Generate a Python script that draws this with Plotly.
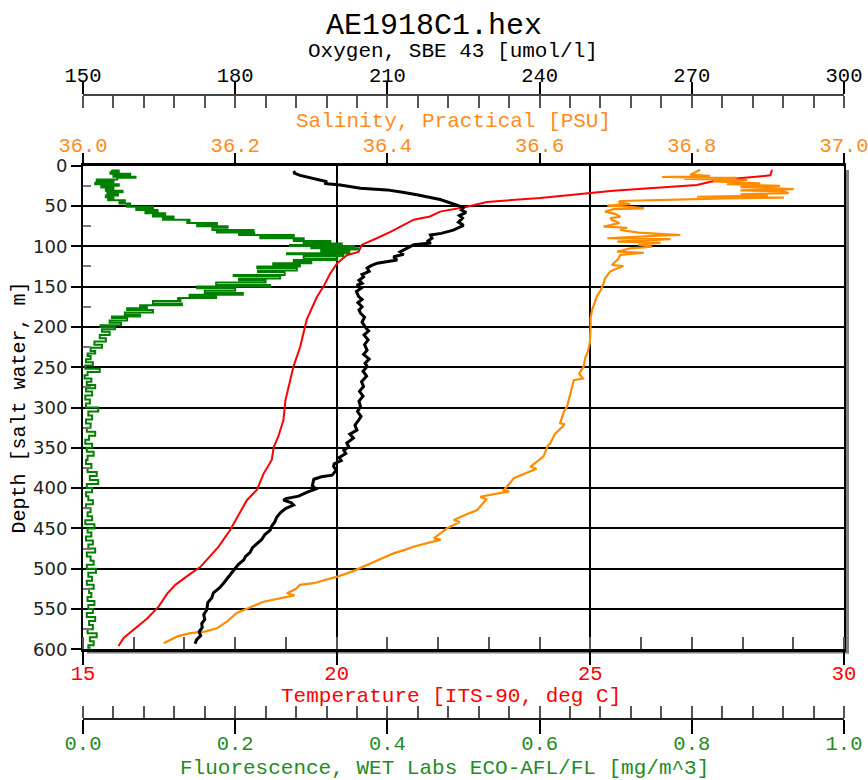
import plotly.graph_objects as go

# ---------------- data ----------------
temp_depth = [5, 12, 18, 24, 31, 34, 40, 45, 51, 57,
              63, 67, 76, 82, 90, 98, 107, 111, 121, 134,
              150, 163, 191, 225, 249, 266, 291, 316, 336, 349,
              365, 382, 402, 415, 436, 452, 473, 498, 508, 520,
              531, 547, 562, 576, 586, 596]
temp_value = [28.58, 28.55, 27.50, 27.10, 25.45, 25.00, 24.01, 22.96, 22.57, 22.04,
              21.84, 21.52, 21.25, 21.06, 20.79, 20.50, 20.43, 20.20, 20.01, 19.87,
              19.74, 19.61, 19.41, 19.28, 19.15, 19.09, 18.99, 18.95, 18.85, 18.76,
              18.72, 18.56, 18.43, 18.23, 18.04, 17.90, 17.67, 17.31, 17.08, 16.82,
              16.66, 16.49, 16.26, 16.00, 15.80, 15.70]

oxy_depth = [7, 9, 12, 16, 20, 22, 24, 28, 30, 33,
             36, 42, 46, 49, 52, 55, 58, 62, 65, 70,
             74, 78, 80, 84, 86, 90, 94, 96, 98, 102,
             107, 110, 113, 117, 119, 121, 124, 127, 131, 135,
             138, 142, 146, 148, 152, 156, 162, 166, 170, 175,
             179, 183, 188, 194, 200, 205, 210, 216, 222, 229,
             234, 240, 245, 249, 255, 261, 268, 274, 280, 286,
             292, 299, 305, 311, 316, 322, 328, 333, 338, 344,
             349, 353, 357, 362, 366, 370, 373, 378, 384, 386,
             389, 392, 397, 401, 405, 410, 413, 415, 418, 421,
             425, 430, 436, 442, 447, 452, 458, 464, 469, 474,
             480, 485, 489, 495, 502, 508, 513, 518, 524, 530,
             536, 542, 551, 557, 563, 568, 573, 578, 583, 588,
             593]
oxy_value = [191.9, 191.5, 192.8, 195.5, 198.1, 197.6, 200.7, 204.7, 209.9, 213.0,
             215.8, 220.4, 222.5, 223.7, 225.0, 224.6, 225.5, 224.2, 224.8, 224.0,
             225.0, 223.6, 223.0, 220.6, 218.5, 218.8, 217.8, 218.6, 215.2, 214.0,
             212.5, 213.2, 211.2, 211.9, 209.5, 208.0, 206.8, 206.0, 206.4, 205.0,
             205.3, 204.4, 205.0, 204.0, 204.8, 203.9, 204.3, 205.0, 204.2, 205.0,
             204.4, 204.7, 205.5, 205.0, 205.6, 206.3, 205.4, 206.2, 205.5, 206.0,
             205.3, 206.4, 205.6, 206.0, 205.2, 205.9, 204.9, 205.3, 204.5, 205.2,
             204.4, 204.7, 204.1, 204.8, 204.3, 203.6, 204.0, 202.6, 203.3, 202.0,
             202.4, 201.4, 201.8, 200.5, 200.9, 199.5, 199.4, 199.9, 199.1, 197.0,
             195.5, 195.4, 195.2, 195.9, 194.2, 192.5, 190.0, 189.5, 191.0, 191.5,
             190.0, 189.0, 188.2, 187.8, 187.2, 186.9, 185.8, 185.2, 184.3, 183.4,
             182.9, 182.0, 181.7, 180.6, 179.7, 179.0, 178.4, 177.7, 176.9, 175.7,
             175.4, 174.6, 174.4, 173.8, 174.0, 173.4, 173.5, 172.9, 173.2, 172.4,
             172.1]

sal_depth = [5.0, 8.0, 11.5, 12.5, 14.0, 15.0, 16.5, 17.7, 19.5, 21.8,
             23.0, 25.0, 26.5, 29.0, 30.5, 32.0, 34.0, 35.5, 37.0, 38.5,
             39.5, 40.5, 42.5, 43.8, 45.4, 47.5, 49.6, 51.0, 52.9, 54.0,
             57.0, 60.0, 63.3, 65.0, 67.4, 71.0, 75.7, 77.0, 79.8, 83.0,
             86.0, 87.0, 90.0, 91.0, 94.3, 95.5, 98.0, 100.5, 102.5, 106.7,
             108.0, 110.8, 116.0, 123.2, 124.5, 131.0, 139.7, 146.0, 155.0, 162.5,
             171.0, 179.0, 189.0, 200.0, 220.0, 232.0, 238.0, 249.0, 258.0, 264.0,
             266.0, 280.0, 299.0, 305.0, 319.6, 321.0, 333.0, 344.4, 347.0, 361.0,
             373.4, 376.0, 387.8, 395.0, 402.4, 404.0, 410.7, 414.0, 420.0, 427.2,
             432.0, 439.6, 442.0, 450.0, 456.0, 462.3, 464.0, 472.7, 476.0, 481.0,
             488.0, 495.4, 503.0, 509.9, 514.0, 518.0, 520.0, 525.0, 530.5, 533.0,
             541.0, 548.0, 555.0, 565.0, 574.0, 578.0, 580.0, 584.0, 588.0, 592.6]
sal_value = [36.811, 36.805, 36.798, 36.824, 36.761, 36.859, 36.790, 36.873, 36.828, 36.890,
             36.846, 36.916, 36.864, 36.934, 36.864, 36.921, 36.927, 36.864, 36.900, 36.807,
             36.921, 36.846, 36.772, 36.706, 36.704, 36.719, 36.689, 36.719, 36.737, 36.697,
             36.686, 36.700, 36.706, 36.693, 36.695, 36.705, 36.684, 36.715, 36.706, 36.730,
             36.785, 36.750, 36.689, 36.772, 36.702, 36.759, 36.730, 36.748, 36.719, 36.702,
             36.737, 36.706, 36.703, 36.695, 36.710, 36.693, 36.686, 36.684, 36.680, 36.675,
             36.672, 36.669, 36.667, 36.667, 36.666, 36.663, 36.660, 36.658, 36.652, 36.657,
             36.645, 36.641, 36.636, 36.632, 36.627, 36.633, 36.620, 36.614, 36.611, 36.605,
             36.588, 36.596, 36.566, 36.560, 36.553, 36.560, 36.522, 36.530, 36.525, 36.518,
             36.505, 36.487, 36.495, 36.478, 36.470, 36.461, 36.470, 36.434, 36.425, 36.408,
             36.391, 36.373, 36.355, 36.334, 36.318, 36.303, 36.285, 36.280, 36.268, 36.278,
             36.237, 36.220, 36.202, 36.190, 36.176, 36.160, 36.141, 36.124, 36.115, 36.106]

flu_depth = [5, 6, 8, 10, 12, 13.6, 15, 17, 19, 21,
             23, 25, 27, 29, 31, 33, 35, 37, 39, 41,
             43, 45, 47, 49, 51, 53, 55, 57, 59, 61,
             63, 65, 67, 69.5, 71, 73, 75, 77, 79.8, 81,
             83, 84.5, 86, 88, 90, 92, 93.5, 95, 96.5, 98.4,
             99.5, 101, 102.5, 104, 106, 108.7, 110, 112, 115, 117,
             119, 121, 123, 125, 127, 130, 132, 135.6, 137, 140,
             142, 145, 148, 150, 152, 155, 158, 160, 162, 164,
             166.6, 168, 171, 173, 175, 177, 179, 182, 185, 187,
             189, 192, 195, 198, 200, 203, 206, 210, 214, 218,
             222, 226, 230, 233, 236, 240, 244, 248, 252, 256,
             260, 264, 268, 272, 276, 280, 285, 290, 295, 300,
             305, 310, 315, 320, 325, 330, 335, 340, 345, 350,
             355, 360, 365, 370, 375, 380, 385, 390, 395, 400,
             405, 410, 415, 420, 425, 430, 435, 440, 445, 450,
             455, 460, 465, 470, 475, 480, 485, 490, 495, 500,
             505, 510, 515, 520, 525, 530, 535, 540, 545, 550,
             555, 560, 565, 570, 575, 580, 585, 590, 595, 598]
flu_value = [0.038, 0.047, 0.036, 0.062, 0.040, 0.069, 0.045, 0.018, 0.040, 0.016,
             0.047, 0.024, 0.040, 0.030, 0.052, 0.032, 0.046, 0.030, 0.040, 0.033,
             0.055, 0.048, 0.062, 0.058, 0.092, 0.070, 0.098, 0.082, 0.108, 0.092,
             0.119, 0.105, 0.140, 0.137, 0.176, 0.150, 0.190, 0.170, 0.224, 0.176,
             0.225, 0.205, 0.277, 0.233, 0.290, 0.277, 0.325, 0.290, 0.340, 0.272,
             0.356, 0.300, 0.362, 0.313, 0.350, 0.268, 0.342, 0.290, 0.334, 0.277,
             0.300, 0.250, 0.285, 0.229, 0.281, 0.230, 0.265, 0.198, 0.259, 0.205,
             0.240, 0.175, 0.246, 0.150, 0.200, 0.160, 0.210, 0.140, 0.175, 0.125,
             0.128, 0.092, 0.130, 0.075, 0.084, 0.058, 0.092, 0.055, 0.075, 0.038,
             0.058, 0.035, 0.050, 0.023, 0.042, 0.025, 0.035, 0.022, 0.030, 0.015,
             0.025, 0.010, 0.016, 0.006, 0.010, 0.004, 0.013, 0.003, 0.022, 0.006,
             0.002, 0.011, 0.005, 0.016, 0.004, 0.012, 0.003, 0.009, 0.004, 0.020,
             0.007, 0.012, 0.004, 0.010, 0.005, 0.016, 0.008, 0.003, 0.012, 0.005,
             0.014, 0.006, 0.004, 0.011, 0.006, 0.018, 0.009, 0.020, 0.005, 0.012,
             0.004, 0.007, 0.013, 0.004, 0.010, 0.006, 0.012, 0.003, 0.015, 0.006,
             0.011, 0.004, 0.013, 0.007, 0.016, 0.005, 0.010, 0.014, 0.005, 0.017,
             0.007, 0.012, 0.005, 0.014, 0.008, 0.011, 0.006, 0.015, 0.007, 0.013,
             0.005, 0.016, 0.008, 0.013, 0.006, 0.018, 0.009, 0.014, 0.007, 0.010]

# tick labels
temp_ticks = [15, 20, 25, 30]
sal_ticks = [36.0, 36.2, 36.4, 36.6, 36.8, 37.0]
sal_ticktext = ["36.0", "36.2", "36.4", "36.6", "36.8", "37.0"]
oxy_ticks = [150, 180, 210, 240, 270, 300]
flu_ticks = [0.0, 0.2, 0.4, 0.6, 0.8, 1.0]
flu_ticktext = ["0.0", "0.2", "0.4", "0.6", "0.8", "1.0"]
depth_ticks = [0, 50, 100, 150, 200, 250, 300, 350, 400, 450, 500, 550, 600]

TITLE = "AE1918C1.hex"
OXY_TITLE = "Oxygen, SBE 43 [umol/l]"
SAL_TITLE = "Salinity, Practical [PSU]"
TEMP_TITLE = "Temperature [ITS-90, deg C]"
FLU_TITLE = "Fluorescence, WET Labs ECO-AFL/FL [mg/m^3]"
DEPTH_TITLE = "Depth [salt water, m]"

# ---------------- styling ----------------
MONO = "Liberation Mono, Courier New, monospace"
SANS = "DejaVu Sans, sans-serif"
RED = "#ff0000"
ORANGE = "#ff8c00"
ORANGE_T = "#ff8c1a"
GREEN = "#008000"
GREEN_T = "#1e8c1e"
GRAYTICK = "#555555"

W, H = 868, 780
ML, MR, MT, MB = 83, 24, 95, 61
PW = W - ML - MR
PH = H - MT - MB


def py(ypx):
    return (H - MB - ypx) / PH


def px(xpx):
    return (xpx - ML) / PW


fig = go.Figure()
fig.add_trace(go.Scatter(x=flu_value, y=flu_depth, xaxis="x4", yaxis="y", mode="lines",
                         line=dict(color=GREEN, width=2, shape="vh"), hoverinfo="skip"))
fig.add_trace(go.Scatter(x=sal_value, y=sal_depth, xaxis="x2", yaxis="y", mode="lines",
                         line=dict(color=ORANGE, width=2.2), hoverinfo="skip"))
fig.add_trace(go.Scatter(x=temp_value, y=temp_depth, xaxis="x", yaxis="y", mode="lines",
                         line=dict(color=RED, width=2), hoverinfo="skip"))
fig.add_trace(go.Scatter(x=oxy_value, y=oxy_depth, xaxis="x3", yaxis="y", mode="lines",
                         line=dict(color="black", width=3), hoverinfo="skip"))

ydom = [py(649.3), py(165.7)]

common_off = dict(showgrid=False, zeroline=False, showticklabels=False, showline=False,
                  automargin=False)

fig.update_layout(
    width=W, height=H,
    margin=dict(l=ML, r=MR, t=MT, b=MB, pad=0, autoexpand=False),
    paper_bgcolor="white", plot_bgcolor="white",
    showlegend=False,
    title=dict(text=TITLE, font=dict(family=MONO, size=30, color="black"),
               x=0.5, xref="container", xanchor="center",
               y=1 - 23 / H, yref="container", yanchor="middle"),
    yaxis=dict(domain=ydom, range=[600, 0], autorange=False, automargin=False,
               tickmode="array", tickvals=depth_ticks,
               ticks="outside", ticklen=10, tickwidth=2, tickcolor="black",
               tickfont=dict(family=SANS, size=18, color="#222222"),
               showline=True, linecolor="black", linewidth=2, mirror=True,
               showgrid=True, gridcolor="black", gridwidth=2, zeroline=False,
               minor=dict(tick0=25, dtick=50, ticks="inside", ticklen=8, tickwidth=1.5,
                          tickcolor="#777777"),
               title=dict(text=DEPTH_TITLE, font=dict(family=MONO, size=20, color="black"), standoff=2)),
    # temperature
    xaxis=dict(domain=[0, 1], anchor="y", side="bottom", range=[15, 30], automargin=False,
               tickmode="array", tickvals=temp_ticks, ticklabeloverflow="allow",
               ticks="outside", ticklen=13, tickwidth=2, tickcolor="black",
               tickfont=dict(family=MONO, size=20.5, color=RED), ticklabelstandoff=-10,
               showline=True, linecolor="black", linewidth=3, mirror=True,
               showgrid=True, gridcolor="black", gridwidth=2, zeroline=False,
               minor=dict(tick0=15, dtick=1, ticks="inside", ticklen=12, tickwidth=1.5,
                          tickcolor=GRAYTICK)),
    # salinity
    xaxis2=dict(overlaying="x", anchor="y", side="top", range=[36, 37], automargin=False,
                tickmode="array", tickvals=sal_ticks, ticktext=sal_ticktext,
                ticklabeloverflow="allow",
                ticks="outside", ticklen=12, tickwidth=2,
                tickcolor="black", tickfont=dict(family=MONO, size=20.5, color=ORANGE_T),
                ticklabelstandoff=-7,
                showline=False, showgrid=False, zeroline=False),
    xaxis6=dict(overlaying="x", anchor="y", side="top", range=[36, 37],
                tickmode="array", tickvals=sal_ticks,
                ticks="inside", ticklen=11, tickwidth=2, tickcolor="black",
                **common_off),
    # oxygen
    xaxis3=dict(overlaying="x", anchor="free", position=1, side="top", range=[150, 300],
                automargin=False, tickmode="array", tickvals=oxy_ticks, ticklabeloverflow="allow",
                ticks="outside", ticklen=12, tickwidth=2, tickcolor="black",
                tickfont=dict(family=MONO, size=20.5, color="black"), ticklabelstandoff=-8,
                showline=True, linecolor="#444444", linewidth=1.5, showgrid=False, zeroline=False,
                minor=dict(tick0=150, dtick=6, ticks="inside", ticklen=12, tickwidth=1.5,
                           tickcolor=GRAYTICK)),
    xaxis5=dict(overlaying="x", anchor="free", position=1, side="top", range=[150, 300],
                tickmode="array", tickvals=oxy_ticks,
                ticks="inside", ticklen=12, tickwidth=2, tickcolor="black",
                **common_off),
    # fluorescence
    xaxis4=dict(overlaying="x", anchor="free", position=0, side="bottom", range=[0, 1],
                automargin=False, tickmode="array", tickvals=flu_ticks, ticktext=flu_ticktext,
                ticklabeloverflow="allow",
                ticks="outside", ticklen=14, tickwidth=2,
                tickcolor="black", tickfont=dict(family=MONO, size=20.5, color=GREEN_T),
                ticklabelstandoff=-8,
                showline=True, linecolor="#222222", linewidth=1.5, showgrid=False, zeroline=False,
                minor=dict(tick0=0, dtick=0.04, ticks="inside", ticklen=12, tickwidth=1.5,
                           tickcolor=GRAYTICK)),
    xaxis7=dict(overlaying="x", anchor="free", position=0, side="bottom", range=[0, 1],
                tickmode="array", tickvals=flu_ticks,
                ticks="inside", ticklen=12, tickwidth=2, tickcolor="black",
                **common_off),
)

# axis titles placed as text annotations
ann = [
    (OXY_TITLE, 453, 51, "black"),
    (SAL_TITLE, 453, 122, ORANGE_T),
    (TEMP_TITLE, 451, 696, RED),
    (FLU_TITLE, 444.5, 768, GREEN_T),
]
for text, cx, cy, col in ann:
    fig.add_annotation(text=text, xref="paper", yref="paper", x=px(cx), y=py(cy),
                       xanchor="center", yanchor="middle", showarrow=False,
                       font=dict(family=MONO, size=21, color=col))

# drop shadow of the plot frame
fig.add_shape(type="rect", xref="paper", yref="paper", layer="below",
              x0=1.0, x1=px(849), y0=py(653.5), y1=py(170),
              fillcolor="#808080", line=dict(width=0))
fig.add_shape(type="rect", xref="paper", yref="paper", layer="below",
              x0=px(87), x1=px(849), y0=py(653.5), y1=py(649.3),
              fillcolor="#808080", line=dict(width=0))

fig.write_html("out.html", config={"displayModeBar": False},
               post_script="document.body.style.margin='0';")
